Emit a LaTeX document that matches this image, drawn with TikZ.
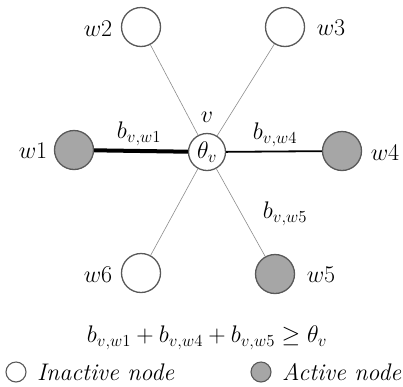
\RequirePackage{fix-cm}
\documentclass[tikz,border=0pt]{standalone}
\begin{document}
\begin{tikzpicture}[x=1pt,y=-1pt,
  inact/.style={circle,draw=black!65,line width=1.3pt,fill=white,minimum size=39pt,inner sep=0pt},
  act/.style={circle,draw=black!65,line width=1.3pt,fill=black!35,minimum size=39pt,inner sep=0pt},
  thin edge/.style={draw=black!45,line width=0.6pt},
  lbl/.style={font=\fontsize{24}{28}\selectfont,inner sep=1pt}]
\clip (0,0) rectangle (403,386);
\useasboundingbox (0,0) rectangle (403,386);
\node[inact,minimum size=37pt] (v) at (207,152) {};
\node[lbl] at (v) {$\theta_v$};
\node[act] (w1) at (74,150) {};
\node[inact] (w2) at (141,27) {};
\node[inact] (w3) at (285,27) {};
\node[act] (w4) at (342,151) {};
\node[act] (w5) at (275,274) {};
\node[inact] (w6) at (141,273) {};
\draw[thin edge] (v) -- (w2);
\draw[thin edge] (v) -- (w3);
\draw[thin edge] (v) -- (w5);
\draw[thin edge] (v) -- (w6);
\draw[line width=4pt] (v) -- (w1);
\draw[line width=1.8pt] (v) -- (w4);
\node[lbl] (lv) at (207,117) {$v$};
\node[lbl] (l1) at (33,151) {$w1$};
\node[lbl] (l2) at (98,29) {$w2$};
\node[lbl] (l3) at (331,28) {$w3$};
\node[lbl] (l4) at (385,153) {$w4$};
\node[lbl] (l5) at (321,275) {$w5$};
\node[lbl] (l6) at (98,275) {$w6$};
\node[lbl] (b1) at (139,134) {$b_{v,w1}$};
\node[lbl] (b4) at (275,135) {$b_{v,w4}$};
\node[lbl] (b5) at (285,214) {$b_{v,w5}$};
\node[lbl] (eq) at (207,338) {$b_{v,w1}+b_{v,w4}+b_{v,w5}\geq\theta_v$};
\node[inact,minimum size=20pt,line width=1.1pt] (li) at (16,372) {};
\node[lbl,anchor=west] (lit) at (36,372) {\textit{Inactive node}};
\node[act,minimum size=20pt,line width=1.1pt] (la) at (261,372) {};
\node[lbl,anchor=west] (lat) at (281,372) {\textit{Active node}};
\end{tikzpicture}
\end{document}
